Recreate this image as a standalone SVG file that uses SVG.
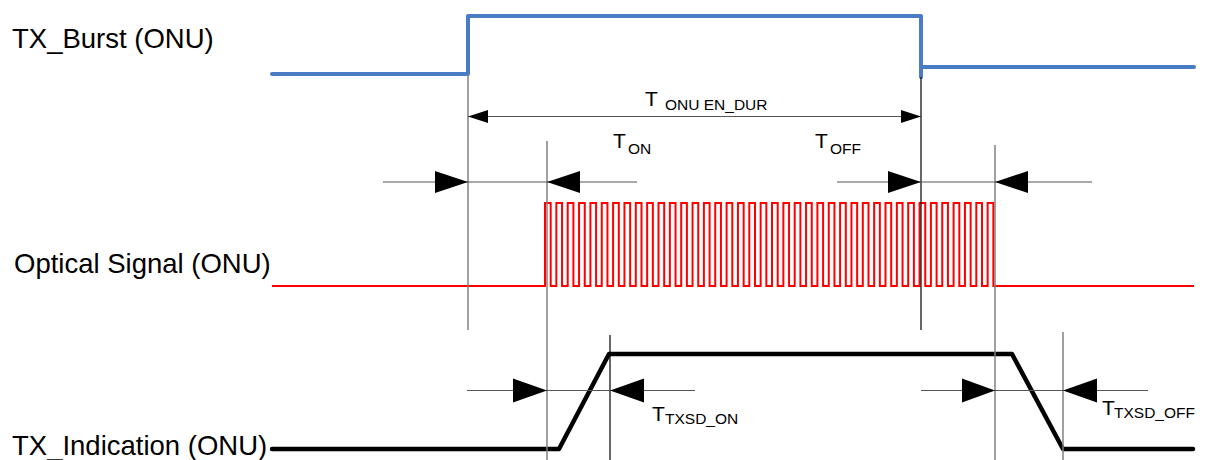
<svg xmlns="http://www.w3.org/2000/svg" width="1209" height="460" viewBox="0 0 1209 460">
<style>
.lbl{font-family:"Liberation Sans",Arial,sans-serif;font-size:27.5px;fill:#000}
.t{font-family:"Liberation Sans",Arial,sans-serif;font-size:21px;fill:#000}
.sub{font-size:15.5px}
.burst{fill:none;stroke:#4a7cc4;stroke-width:4;stroke-linecap:round;stroke-linejoin:round}
.opt{fill:none;stroke:#ff0000;stroke-width:2}
.ind{fill:none;stroke:#000;stroke-width:4.5;stroke-linecap:round;stroke-linejoin:round}
.vg{stroke:#808080;stroke-width:1.5}
.vb{stroke:#000;stroke-width:1.2}
.dim{stroke:#555;stroke-width:1.2}
.ah{fill:#000}
</style>
<rect width="1209" height="460" fill="#fff"/>
<g id="tx-burst">
<text class="lbl" x="12" y="48">TX_Burst (ONU)</text>
<path class="burst" d="M272,74 H468 V16 H921 V77 M921,67 H1194"/>
</g>
<g id="optical-signal">
<text class="lbl" x="14" y="273">Optical Signal (ONU)</text>
<path class="opt" d="M272,286 H545
v-83h5.7v83h5.65 v-83h5.7v83h5.65 v-83h5.7v83h5.65 v-83h5.7v83h5.65 v-83h5.7v83h5.65 v-83h5.7v83h5.65 v-83h5.7v83h5.65 v-83h5.7v83h5.65 v-83h5.7v83h5.65 v-83h5.7v83h5.65
v-83h5.7v83h5.65 v-83h5.7v83h5.65 v-83h5.7v83h5.65 v-83h5.7v83h5.65 v-83h5.7v83h5.65 v-83h5.7v83h5.65 v-83h5.7v83h5.65 v-83h5.7v83h5.65 v-83h5.7v83h5.65 v-83h5.7v83h5.65
v-83h5.7v83h5.65 v-83h5.7v83h5.65 v-83h5.7v83h5.65 v-83h5.7v83h5.65 v-83h5.7v83h5.65 v-83h5.7v83h5.65 v-83h5.7v83h5.65 v-83h5.7v83h5.65 v-83h5.7v83h5.65 v-83h5.7v83h5.65
v-83h5.7v83h5.65 v-83h5.7v83h5.65 v-83h5.7v83h5.65 v-83h5.7v83h5.65 v-83h5.7v83h5.65 v-83h5.7v83h5.65 v-83h5.7v83h5.65 v-83h5.7v83h5.65 v-83h5.7v83h5.65 v-83h5.7v83h5.65
H1194"/>
</g>
<g id="tx-indication">
<text class="lbl" x="12" y="455">TX_Indication (ONU)</text>
<path class="ind" d="M272,449 H559 L609,354 H1012 L1063,449 H1193"/>
</g>
<g id="connectors">
<line class="vg" x1="468" y1="75" x2="468" y2="330"/>
<line class="vb" x1="921" y1="77" x2="921" y2="330"/>
<line class="vg" x1="547" y1="141" x2="547" y2="460"/>
<line class="vg" x1="995" y1="145" x2="995" y2="460"/>
<line class="vb" x1="610" y1="335" x2="610" y2="460"/>
<line class="vg" x1="1063" y1="332" x2="1063" y2="460"/>
<line class="dim" x1="468" y1="116.5" x2="921" y2="116.5"/>
<polygon class="ah" points="468,116.5 488,110 488,123"/>
<polygon class="ah" points="921,116.5 901,110 901,123"/>
<line class="dim" x1="383" y1="182" x2="637" y2="182"/>
<polygon class="ah" points="468,182 435,171 435,193"/>
<polygon class="ah" points="547,182 580,171 580,193"/>
<line class="dim" x1="837" y1="182" x2="1092" y2="182"/>
<polygon class="ah" points="921,182 888,171 888,193"/>
<polygon class="ah" points="995,182 1028,171 1028,193"/>
<line class="dim" x1="467" y1="390.5" x2="695" y2="390.5"/>
<polygon class="ah" points="547,390.5 513,378.5 513,402.5"/>
<polygon class="ah" points="610,390.5 644,378.5 644,402.5"/>
<line class="dim" x1="921" y1="390.5" x2="1148" y2="390.5"/>
<polygon class="ah" points="995,390.5 962,378.5 962,402.5"/>
<polygon class="ah" points="1063,390.5 1097,378.5 1097,402.5"/>
</g>
<g id="timing-labels">
<text class="t" x="645" y="106">T<tspan class="sub" x="665" y="110">ONU EN_DUR</tspan></text>
<text class="t" x="613" y="148">T<tspan class="sub" x="628" y="154">ON</tspan></text>
<text class="t" x="815" y="148">T<tspan class="sub" x="830" y="154">OFF</tspan></text>
<text class="t" x="652" y="421">T<tspan class="sub" x="665" y="424">TXSD_ON</tspan></text>
<text class="t" x="1102" y="415">T<tspan class="sub" x="1114" y="418">TXSD_OFF</tspan></text>
</g>
</svg>
